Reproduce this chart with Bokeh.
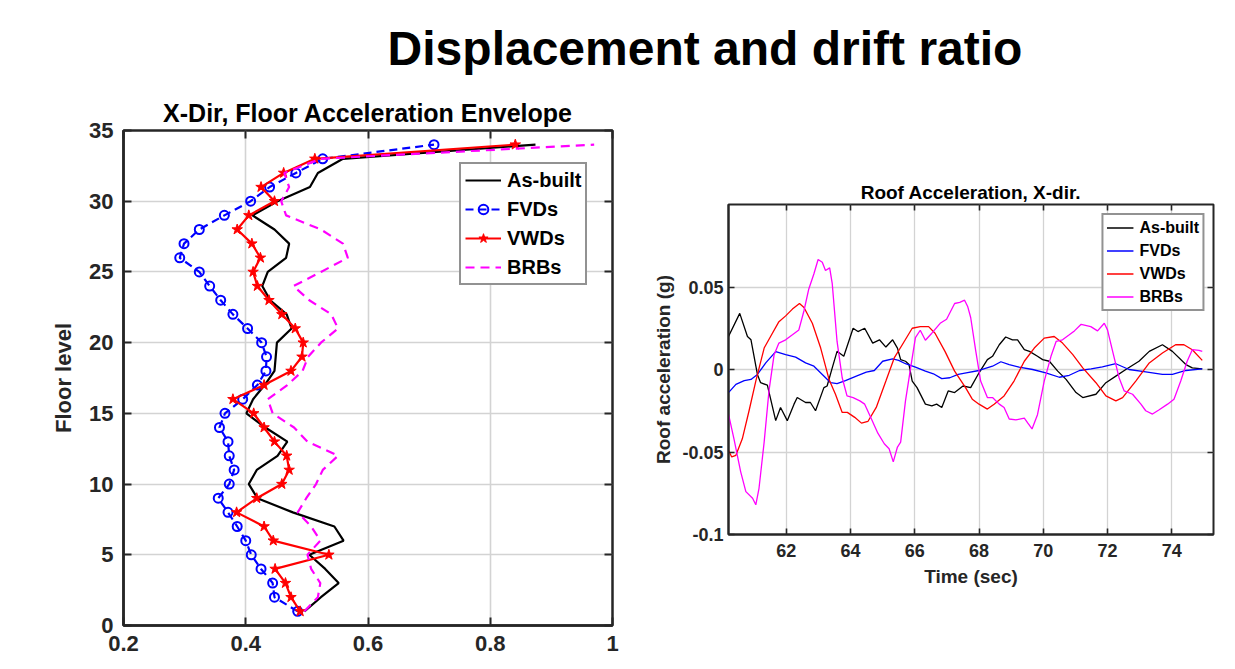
from bokeh.plotting import figure
from bokeh.models import Range1d, FixedTicker, LinearAxis, Legend, LegendItem, Div
from bokeh.layouts import row, column
from bokeh.embed import file_html
from bokeh.resources import INLINE

FONT = "Liberation Sans"
AX = "#262626"

# ---------------- Left chart: floor acceleration envelope ----------------
floors = list(range(1, 35))
as_built_env = [0.496, 0.523, 0.552, 0.530, 0.504, 0.560, 0.545, 0.477, 0.419, 0.405,
                0.418, 0.452, 0.468, 0.432, 0.401, 0.412, 0.431, 0.447, 0.449, 0.451,
                0.475, 0.467, 0.440, 0.427, 0.436, 0.466, 0.471, 0.447, 0.411, 0.452,
                0.505, 0.518, 0.559, 0.874]
fvds_env = [0.485, 0.447, 0.444, 0.425, 0.409, 0.400, 0.386, 0.371, 0.355, 0.373,
            0.381, 0.373, 0.371, 0.357, 0.366, 0.395, 0.419, 0.433, 0.434, 0.426,
            0.403, 0.379, 0.359, 0.341, 0.324, 0.292, 0.299, 0.324, 0.365, 0.408,
            0.439, 0.482, 0.526, 0.708]
vwds_env = [0.489, 0.474, 0.465, 0.448, 0.536, 0.445, 0.430, 0.385, 0.418, 0.459,
            0.471, 0.467, 0.447, 0.430, 0.413, 0.379, 0.430, 0.474, 0.492, 0.494,
            0.481, 0.459, 0.438, 0.419, 0.412, 0.424, 0.410, 0.386, 0.405, 0.447,
            0.425, 0.462, 0.513, 0.841]
brbs_env = [0.496, 0.518, 0.522, 0.507, 0.501, 0.522, 0.507, 0.485, 0.499, 0.515,
            0.526, 0.551, 0.501, 0.479, 0.444, 0.436, 0.468, 0.493, 0.502, 0.523,
            0.551, 0.540, 0.504, 0.478, 0.523, 0.567, 0.559, 0.523, 0.466, 0.458,
            0.471, 0.463, 0.523, 0.970]
env_x_ticks = [0.2, 0.4, 0.6, 0.8, 1.0]
env_x_labels = ["0.2", "0.4", "0.6", "0.8", "1"]
env_y_ticks = [0, 5, 10, 15, 20, 25, 30, 35]
env_y_labels = ["0", "5", "10", "15", "20", "25", "30", "35"]

# ---------------- Right chart: roof acceleration time history ----------------
t_as_built = [60.20, 60.55, 60.79, 60.90, 61.10, 61.20, 61.41, 61.67, 61.82, 62.03,
              62.24, 62.34, 62.60, 62.75, 62.91, 63.17, 63.27, 63.43, 63.58, 63.79,
              64.08, 64.23, 64.44, 64.69, 64.90, 65.10, 65.31, 65.46, 65.56, 65.71,
              65.82, 65.92, 66.07, 66.33, 66.53, 66.68, 66.84, 67.04, 67.24, 67.50,
              67.74, 68.00, 68.26, 68.42, 68.63, 68.83, 69.04, 69.20, 69.41, 69.57,
              69.82, 69.98, 70.19, 70.45, 70.71, 71.02, 71.23, 71.64, 71.95, 72.26,
              72.57, 72.98, 73.30, 73.71, 74.02, 74.44, 74.64, 74.95]
a_as_built = [0.020, 0.034, 0.020, 0.018, -0.003, -0.008, -0.0095, -0.031, -0.023, -0.031,
              -0.021, -0.017, -0.020, -0.020, -0.025, -0.011, -0.010, 0.001, 0.011, 0.008,
              0.025, 0.023, 0.025, 0.016, 0.018, 0.0136, 0.018, 0.013, 0.006, 0.005,
              0.003, -0.007, -0.011, -0.021, -0.022, -0.021, -0.023, -0.013, -0.014, -0.010,
              -0.011, -0.002, 0.006, 0.008, 0.015, 0.0197, 0.018, 0.018, 0.012, 0.011,
              0.008, 0.006, 0.005, -0.001, -0.006, -0.014, -0.017, -0.015, -0.008, -0.004,
              0.000, 0.005, 0.011, 0.015, 0.011, 0.003, 0.001, 0.0004]

t_fvds = [60.20, 60.43, 60.69, 60.90, 61.10, 61.36, 61.67, 61.98, 62.29, 62.60,
          62.86, 63.12, 63.38, 63.58, 63.84, 64.18, 64.49, 64.74, 65.00, 65.31,
          65.50, 65.71, 66.02, 66.33, 66.58, 66.84, 67.09, 67.35, 67.60, 68.00,
          68.42, 68.68, 68.94, 69.25, 69.67, 70.08, 70.50, 70.81, 71.13, 71.49,
          71.84, 72.26, 72.67, 73.19, 73.71, 74.02, 74.44, 74.95]
a_fvds = [-0.014, -0.009, -0.0067, -0.006, -0.003, 0.004, 0.0108, 0.009, 0.0075, 0.004,
          0.002, -0.003, -0.008, -0.0085, -0.0067, -0.004, -0.0016, -0.0006, 0.005, 0.0065,
          0.0055, 0.0035, 0.0014, -0.001, -0.0026, -0.0055, -0.005, -0.003, -0.002, -0.0006,
          0.002, 0.0047, 0.003, 0.0014, 0.000, -0.002, -0.0047, -0.0035, -0.0006, 0.0004,
          0.0016, 0.0035, 0.000, -0.0014, -0.003, -0.003, -0.0006, 0.0004]

t_vwds = [60.20, 60.30, 60.43, 60.63, 60.84, 61.05, 61.31, 61.51, 61.77, 61.98,
          62.19, 62.41, 62.55, 62.81, 63.07, 63.33, 63.53, 63.74, 63.90, 64.13,
          64.34, 64.54, 64.80, 65.10, 65.36, 65.61, 65.92, 66.17, 66.43, 66.63,
          66.94, 67.24, 67.58, 67.79, 68.00, 68.26, 68.47, 68.78, 69.09, 69.41,
          69.72, 70.03, 70.34, 70.60, 70.92, 71.23, 71.64, 71.95, 72.26, 72.47,
          72.88, 73.30, 73.71, 74.12, 74.38, 74.64, 74.95]
a_vwds = [-0.049, -0.053, -0.052, -0.042, -0.025, -0.007, 0.013, 0.020, 0.029, 0.0325,
          0.0366, 0.040, 0.0376, 0.028, 0.013, -0.006, -0.015, -0.026, -0.026, -0.029,
          -0.0325, -0.0315, -0.023, -0.007, 0.007, 0.015, 0.025, 0.026, 0.026, 0.022,
          0.011, -0.001, -0.011, -0.018, -0.021, -0.024, -0.021, -0.016, -0.007, 0.005,
          0.013, 0.019, 0.020, 0.016, 0.009, 0.001, -0.008, -0.016, -0.019, -0.017,
          -0.007, 0.004, 0.010, 0.015, 0.015, 0.012, 0.0055]

t_brbs = [60.20, 60.37, 60.58, 60.74, 60.95, 61.05, 61.15, 61.31, 61.46, 61.62,
          61.77, 61.98, 62.19, 62.39, 62.55, 62.70, 62.86, 62.99, 63.12, 63.22,
          63.35, 63.43, 63.58, 63.74, 63.89, 64.08, 64.29, 64.44, 64.64, 64.85,
          65.05, 65.20, 65.33, 65.46, 65.56, 65.71, 65.87, 66.02, 66.17, 66.33,
          66.53, 66.79, 66.99, 67.24, 67.40, 67.55, 67.65, 67.74, 67.90, 68.05,
          68.26, 68.42, 68.63, 68.78, 68.94, 69.15, 69.41, 69.52, 69.65, 69.82,
          70.03, 70.24, 70.40, 70.60, 70.81, 70.97, 71.18, 71.48, 71.69, 71.90,
          72.00, 72.16, 72.36, 72.52, 72.78, 73.04, 73.19, 73.40, 73.61, 73.87,
          74.07, 74.28, 74.48, 74.64, 74.85, 74.95]
a_brbs = [-0.027, -0.042, -0.062, -0.074, -0.078, -0.082, -0.072, -0.044, -0.013, 0.009,
          0.016, 0.018, 0.021, 0.024, 0.0356, 0.0488, 0.058, 0.0667, 0.065, 0.060,
          0.0616, 0.052, 0.017, -0.005, -0.016, -0.017, -0.019, -0.021, -0.0295, -0.0386,
          -0.045, -0.048, -0.056, -0.047, -0.044, -0.019, 0.001, 0.0193, 0.0238, 0.0177,
          0.022, 0.028, 0.0305, 0.040, 0.0407, 0.042, 0.038, 0.0315, 0.011, -0.007,
          -0.017, -0.017, -0.021, -0.023, -0.030, -0.0305, -0.0295, -0.0325, -0.036, -0.0274,
          -0.007, 0.008, 0.017, 0.018, 0.021, 0.0234, 0.0274, 0.026, 0.0234, 0.028,
          0.024, 0.011, -0.005, -0.013, -0.015, -0.021, -0.025, -0.027, -0.0244, -0.021,
          -0.018, -0.007, 0.005, 0.012, 0.0116, 0.011]

roof_x_ticks = [62, 64, 66, 68, 70, 72, 74]
roof_x_labels = ["62", "64", "66", "68", "70", "72", "74"]
roof_y_ticks = [-0.1, -0.05, 0, 0.05]
roof_y_labels = ["-0.1", "-0.05", "0", "0.05"]

series_names = ["As-built", "FVDs", "VWDs", "BRBs"]
series_colors = ["#000000", "#0000ff", "#ff0000", "#ff00ff"]


def style_axes(p, xt, xl, yt, yl, tick_px, label_px, box_w, tick_len, grid_w):
    p.outline_line_color = AX
    p.outline_line_width = box_w
    for ax, t, l in ((p.below[0], xt, xl), (p.left[0], yt, yl)):
        ax.ticker = FixedTicker(ticks=t)
        ax.major_label_overrides = {v: s for v, s in zip(t, l)}
        ax.major_label_text_font = FONT
        ax.major_label_text_font_size = tick_px
        ax.major_label_text_font_style = "bold"
        ax.major_label_text_color = AX
        ax.axis_line_color = AX
        ax.axis_line_width = box_w
        ax.major_tick_in = tick_len
        ax.major_tick_out = 0
        ax.major_tick_line_color = AX
        ax.major_tick_line_width = box_w * 0.8
        ax.minor_tick_line_color = None
        ax.axis_label_text_font = FONT
        ax.axis_label_text_font_size = label_px
        ax.axis_label_text_font_style = "bold"
        ax.axis_label_text_color = AX
    p.grid.grid_line_color = "#d3d3d3"
    p.grid.grid_line_width = grid_w
    # box ticks on the opposite sides
    top = LinearAxis(ticker=FixedTicker(ticks=xt), major_label_text_font_size="1px",
                     major_label_text_color=None, major_label_standoff=0,
                     major_tick_in=tick_len, major_tick_out=0, major_tick_line_color=AX,
                     major_tick_line_width=box_w * 0.8, minor_tick_line_color=None,
                     axis_line_color=None)
    right = LinearAxis(ticker=FixedTicker(ticks=yt), major_label_text_font_size="1px",
                       major_label_text_color=None, major_label_standoff=0,
                       major_tick_in=tick_len, major_tick_out=0, major_tick_line_color=AX,
                       major_tick_line_width=box_w * 0.8, minor_tick_line_color=None,
                       axis_line_color=None)
    p.add_layout(top, "above")
    p.add_layout(right, "right")


# ---- left figure ----
p1 = figure(width=650, height=584, x_range=Range1d(0.2, 1.0), y_range=Range1d(0, 35),
            output_backend="svg", toolbar_location=None,
            min_border_left=123, min_border_right=38, min_border_top=45, min_border_bottom=44)
p1.frame_align = False
p1.title.text = "X-Dir, Floor Acceleration Envelope"
p1.title.align = "center"
p1.title.text_font = FONT
p1.title.text_font_size = "25px"
p1.title.text_font_style = "bold"
p1.title.text_color = "#000000"
p1.title.standoff = 7
style_axes(p1, env_x_ticks, env_x_labels, env_y_ticks, env_y_labels, "22px", "22px", 2.5, 8, 1.6)
p1.left[0].axis_label = "Floor level"
p1.left[0].major_label_standoff = 10
p1.left[0].axis_label_standoff = 10
p1.below[0].major_label_standoff = 10

r_ab = p1.line(as_built_env, floors, line_color=series_colors[0], line_width=2.2)
r_fv = p1.line(fvds_env, floors, line_color=series_colors[1], line_width=2.2, line_dash="8 5")
r_fvm = p1.scatter(fvds_env, floors, marker="circle", size=9, fill_color=None,
                   line_color=series_colors[1], line_width=2)
r_vw = p1.line(vwds_env, floors, line_color=series_colors[2], line_width=2.2)
r_vwm = p1.scatter(vwds_env, floors, marker="star", size=11, fill_color=series_colors[2],
                   line_color=series_colors[2], line_width=1)
r_br = p1.line(brbs_env, floors, line_color=series_colors[3], line_width=2.2, line_dash="9 6")

leg1 = Legend(items=[LegendItem(label=series_names[0], renderers=[r_ab]),
                     LegendItem(label=series_names[1], renderers=[r_fv, r_fvm]),
                     LegendItem(label=series_names[2], renderers=[r_vw, r_vwm]),
                     LegendItem(label=series_names[3], renderers=[r_br])],
              location=(336, 340), orientation="vertical",
              label_text_font=FONT, label_text_font_size="20px", label_text_font_style="bold",
              label_text_color="#000000", glyph_width=36, glyph_height=24, label_height=24,
              label_standoff=6, spacing=5, padding=4, margin=0,
              border_line_color=AX, border_line_width=2, background_fill_color="white",
              background_fill_alpha=1.0)
p1.add_layout(leg1)

# ---- right figure ----
p2 = figure(width=585, height=584, x_range=Range1d(60.2, 75.3), y_range=Range1d(-0.1, 0.1),
            output_backend="svg", toolbar_location=None,
            min_border_left=77, min_border_right=22, min_border_top=119, min_border_bottom=135)
p2.frame_align = False
p2.title.text = "Roof Acceleration, X-dir."
p2.title.align = "center"
p2.title.text_font = FONT
p2.title.text_font_size = "19px"
p2.title.text_font_style = "bold"
p2.title.text_color = "#000000"
p2.title.standoff = 4
style_axes(p2, roof_x_ticks, roof_x_labels, roof_y_ticks, roof_y_labels, "18px", "19px", 2.0, 6, 1.3)
p2.below[0].axis_label = "Time (sec)"
p2.left[0].axis_label = "Roof acceleration (g)"
p2.left[0].major_label_standoff = 5
p2.left[0].axis_label_standoff = 5
p2.below[0].major_label_standoff = 9
p2.below[0].axis_label_standoff = 6

rs = []
for tt, aa, c in ((t_as_built, a_as_built, series_colors[0]), (t_fvds, a_fvds, series_colors[1]),
                  (t_vwds, a_vwds, series_colors[2]), (t_brbs, a_brbs, series_colors[3])):
    rs.append(p2.line(tt, aa, line_color=c, line_width=1.3))

leg2 = Legend(items=[LegendItem(label=n, renderers=[r]) for n, r in zip(series_names, rs)],
              location="top_right", orientation="vertical",
              label_text_font=FONT, label_text_font_size="16px", label_text_font_style="bold",
              label_text_color="#000000", glyph_width=27, glyph_height=19, label_height=19,
              label_standoff=6, spacing=4, padding=3, margin=9,
              border_line_color=AX, border_line_width=2, background_fill_color="white",
              background_fill_alpha=1.0)
p2.add_layout(leg2)

header = Div(text=("<div style=\"width:1235px;box-sizing:border-box;padding-left:175px;"
                   "padding-top:21px;text-align:center;font-family:'Liberation Sans',Arial,sans-serif;"
                   "font-size:48px;font-weight:bold;color:#000;line-height:1.15;\">"
                   "Displacement and drift ratio</div>"),
             width=1235, height=85, margin=0)

layout = column(header, row(p1, p2))
open("out.html", "w").write(file_html(layout, INLINE))
